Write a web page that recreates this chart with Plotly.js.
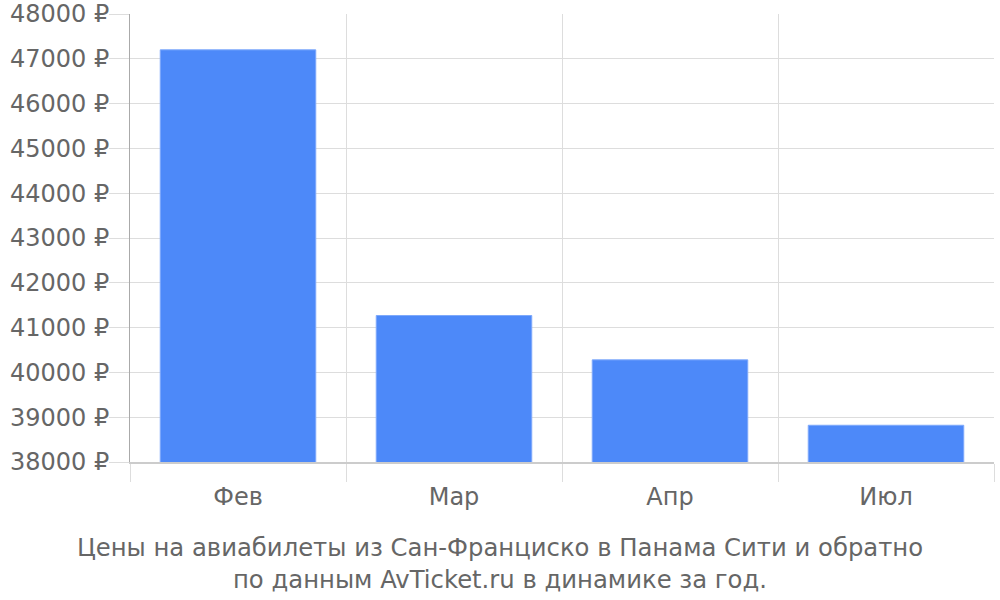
<!DOCTYPE html>
<html>
<head>
<meta charset="utf-8">
<script src="https://cdn.plot.ly/plotly-3.0.1.min.js"></script>
<style>html,body{margin:0;padding:0;background:#fff;}#chart{width:1000px;height:600px;}</style>
</head>
<body>
<div id="chart"></div>
<script>
const months = ["Фев", "Мар", "Апр", "Июл"];
const prices = [47200, 41270, 40280, 38820];
const yTicks = [38000, 39000, 40000, 41000, 42000, 43000, 44000, 45000, 46000, 47000, 48000];
const yTickText = yTicks.map(v => v + " ₽");
const titleText = "Цены на авиабилеты из Сан-Франциско в Панама Сити и обратно<br>по данным AvTicket.ru в динамике за год.";

const trace = {
  type: "bar",
  x: months,
  y: prices,
  marker: {color: "#4d89f9", line: {color: "#7ea9fb", width: 1}},
  hoverinfo: "x+y"
};

const layout = {
  width: 1000, height: 600,
  margin: {l: 130, r: 6, t: 14, b: 138},
  paper_bgcolor: "#fff", plot_bgcolor: "#fff",
  bargap: 0.28,
  font: {family: "DejaVu Sans, sans-serif", color: "#666", size: 24},
  showlegend: false,
  title: {
    text: titleText,
    font: {family: "DejaVu Sans, sans-serif", size: 24.3, color: "#666"},
    x: 0.5, xref: "container", xanchor: "center",
    y: 1 - 556/600, yref: "container", yanchor: "top"
  },
  xaxis: {
    type: "category",
    tickson: "boundaries",
    ticks: "outside", ticklen: 18, tickcolor: "#ddd", tickwidth: 1,
    showgrid: true, gridcolor: "#ddd", gridwidth: 1,
    showline: true, linecolor: "#ccc", linewidth: 2,
    tickfont: {size: 24, color: "#666"},
    ticklabelstandoff: 12,
    fixedrange: true
  },
  yaxis: {
    range: [38000, 48000],
    tickvals: yTicks, ticktext: yTickText,
    ticks: "outside", ticklen: 20, tickcolor: "#ddd", tickwidth: 1,
    showgrid: true, gridcolor: "#ddd", gridwidth: 1,
    showline: true, linecolor: "#aaa", linewidth: 1,
    zeroline: false,
    tickfont: {size: 24, color: "#666"},
    ticklabelstandoff: -5,
    fixedrange: true
  }
};

Plotly.newPlot("chart", [trace], layout, {displayModeBar: false, staticPlot: true});
</script>
</body>
</html>
